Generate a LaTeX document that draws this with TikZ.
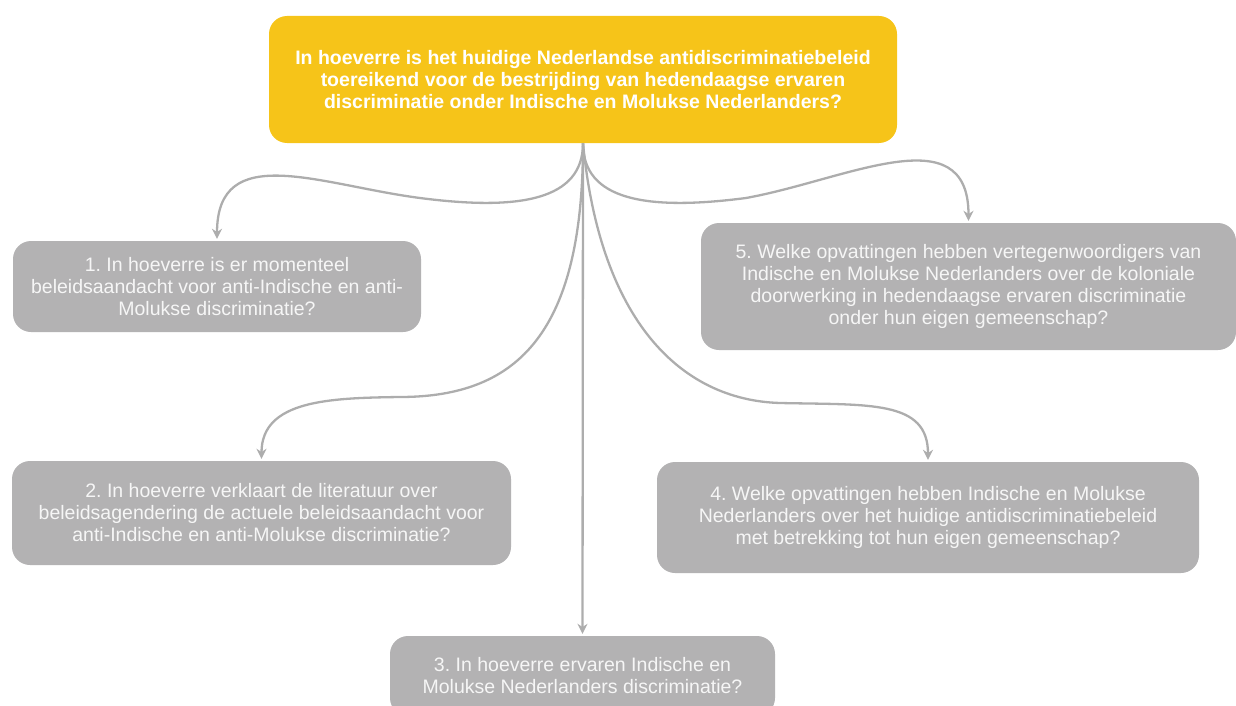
\documentclass[tikz,border=0pt]{standalone}
\usepackage{fontspec}
\setmainfont{Liberation Sans}
\usetikzlibrary{arrows.meta}
\definecolor{geel}{HTML}{F6C419}
\definecolor{grijs}{HTML}{B3B2B3}
\definecolor{lijn}{HTML}{ADADAD}
\definecolor{licht}{HTML}{F6F6F6}
\frenchspacing

\begin{document}
\begin{tikzpicture}[x=1pt,y=-1pt,
	every node/.style={shape=rectangle,rounded corners=18pt,align=center,inner sep=0pt,
		font=\fontsize{19.5}{22}\selectfont},
	hoofd/.style={fill=geel,text=white,font=\fontsize{19.5}{22}\selectfont\bfseries},
	deel/.style={fill=grijs,text=licht},
	pijl/.style={draw=lijn,line width=2.3pt,-{Stealth[length=10pt,width=10pt]},shorten >=2pt}]
	\clip (0,0) rectangle (1236,706);
	\node[hoofd,minimum width=628pt,minimum height=127pt] (vraag) at (583,79.5)
		{In hoeverre is het huidige Nederlandse antidiscriminatiebeleid\\
		toereikend voor de bestrijding van hedendaagse ervaren\\
		discriminatie onder Indische en Molukse Nederlanders?};
	\node[deel,minimum width=408pt,minimum height=91pt] (d1) at (217,286.5)
		{1. In hoeverre is er momenteel\\
		beleidsaandacht voor anti-Indische en anti-\\
		Molukse discriminatie?};
	\node[deel,minimum width=499pt,minimum height=104pt] (d2) at (261.5,513)
		{2. In hoeverre verklaart de literatuur over\\
		beleidsagendering de actuele beleidsaandacht voor\\
		anti-Indische en anti-Molukse discriminatie?};
	\node[deel,minimum width=385pt,minimum height=80pt] (d3) at (582.5,676)
		{3. In hoeverre ervaren Indische en\\
		Molukse Nederlanders discriminatie?};
	\node[deel,minimum width=542pt,minimum height=111pt] (d4) at (928,517.5)
		{4. Welke opvattingen hebben Indische en Molukse\\
		Nederlanders over het huidige antidiscriminatiebeleid\\
		met betrekking tot hun eigen gemeenschap?};
	\node[deel,minimum width=535pt,minimum height=127pt] (d5) at (968.5,286.5)
		{5. Welke opvattingen hebben vertegenwoordigers van\\
		Indische en Molukse Nederlanders over de koloniale\\
		doorwerking in hedendaagse ervaren discriminatie\\
		onder hun eigen gemeenschap?};

	\draw[pijl] (vraag.south) .. controls (583,200) and (520,211) .. (420,198)
		.. controls (320,185) and (217,140) .. (d1.north);
	\draw[pijl] (vraag.south) .. controls (583,200) and (646,211) .. (746,198)
		.. controls (846,180) and (968.5,115) .. (d5.north);
	\draw[pijl] (vraag.south) .. controls (583,330) and (520,397) .. (400,397)
		.. controls (330,398) and (261.5,400) .. (d2.north);
	\draw[pijl] (vraag.south) .. controls (600,320) and (680,400) .. (780,403)
		.. controls (870,405) and (928,400) .. (d4.north);
	\draw[pijl] (vraag.south) -- (d3.north);
\end{tikzpicture}
\end{document}
